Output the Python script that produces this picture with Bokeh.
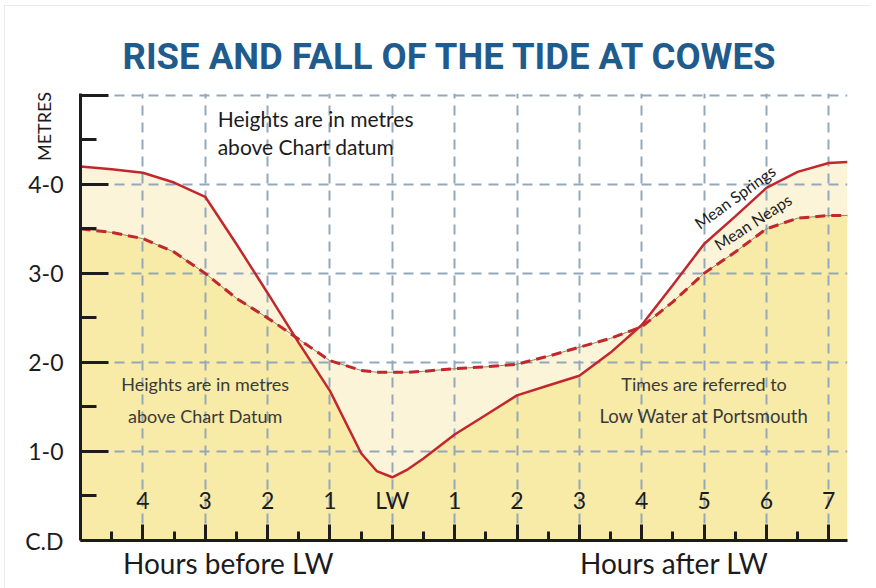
import numpy as np
from bokeh.plotting import figure
from bokeh.models import FixedTicker, Label, Range1d, LinearAxis
from bokeh.core.properties import value
from bokeh.embed import file_html
from bokeh.resources import INLINE

# hours relative to Low Water at Portsmouth (negative = before LW)
hours = [-5, -4.5, -4, -3.5, -3, -2.5, -2, -1.5, -1, -0.5, -0.25, 0, 0.25, 0.5,
         1, 1.5, 2, 2.5, 3, 3.5, 4, 4.5, 5, 5.5, 6, 6.5, 7, 7.3]
springs = [4.20, 4.17, 4.13, 4.02, 3.86, 3.33, 2.78, 2.22, 1.68, 0.98, 0.78, 0.71, 0.80, 0.92,
           1.19, 1.41, 1.63, 1.74, 1.85, 2.11, 2.42, 2.87, 3.33, 3.64, 3.96, 4.14, 4.24, 4.25]
neaps = [3.50, 3.46, 3.39, 3.24, 3.00, 2.72, 2.50, 2.26, 2.02, 1.91, 1.89, 1.89, 1.89, 1.90,
         1.93, 1.95, 1.98, 2.07, 2.17, 2.27, 2.40, 2.68, 3.00, 3.24, 3.50, 3.62, 3.65, 3.65]

hour_ticks = [-4, -3, -2, -1, 0, 1, 2, 3, 4, 5, 6, 7]
hour_labels = ["4", "3", "2", "1", "LW", "1", "2", "3", "4", "5", "6", "7"]
hour_minor = [-4.5, -3.5, -2.5, -1.5, -0.5, 0.5, 1.5, 2.5, 3.5, 4.5, 5.5, 6.5]
height_ticks = [0, 1, 2, 3, 4, 5]
height_labels = ["C.D", "1-0", "2-0", "3-0", "4-0", ""]
height_minor = [0.5, 1.5, 2.5, 3.5, 4.5]
period_pos = [-2.63, 4.52]
period_labels = ["Hours before LW", "Hours after LW"]
unit_pos = [4.65]
unit_labels = ["METRES"]

FONT = "Lato"
INK = "#1c1c1c"
RED = "#c1272d"

p = figure(width=866, height=583, output_backend="svg", toolbar_location=None,
           x_range=Range1d(-5, 7.3), y_range=Range1d(0, 5.02),
           min_border_left=76, min_border_right=23, min_border_top=88, min_border_bottom=48)
p.outline_line_color = None
p.background_fill_color = "white"
p.styles = {"margin-left": "4px", "margin-top": "5px",
            "outline": "2px solid #e3e3e3", "outline-offset": "-2px"}

p.title.text = "RISE AND FALL OF THE TIDE AT COWES"
p.title.align = "left"
p.title.offset = 42
p.title.text_font = "Roboto"
p.title.text_font_size = "36.5px"
p.title.text_font_style = "bold"
p.title.text_color = "#1f5b8c"
p.title.standoff = 31

# grid
for g in (p.xgrid, p.ygrid):
    g.grid_line_color = "#93a8ba"
    g.grid_line_dash = "10 7"
    g.grid_line_width = 2
p.xgrid.ticker = FixedTicker(ticks=hour_ticks)
p.ygrid.ticker = FixedTicker(ticks=height_ticks[1:])

# x axis: tick marks only
xa = p.xaxis[0]
xa.ticker = FixedTicker(ticks=hour_ticks, minor_ticks=hour_minor)
xa.major_tick_in = 16
xa.major_tick_out = 0
xa.minor_tick_in = 9
xa.minor_tick_out = 0
xa.major_label_overrides = {t: "" for t in hour_ticks}
xa.major_label_text_font_size = "1px"
xa.major_label_text_color = None
xa.major_label_standoff = 0
xa.axis_line_width = 3
xa.axis_line_color = INK
xa.major_tick_line_width = 3
xa.major_tick_line_color = INK
xa.minor_tick_line_width = 3
xa.minor_tick_line_color = INK

# second bottom axis: the two period captions
xb = LinearAxis(ticker=FixedTicker(ticks=period_pos, minor_ticks=[]),
                major_label_overrides=dict(zip(period_pos, period_labels)),
                axis_line_color=None, major_tick_line_color=None, minor_tick_line_color=None,
                major_tick_in=0, major_tick_out=0, minor_tick_in=0, minor_tick_out=0,
                major_label_standoff=5, major_label_text_font=FONT,
                major_label_text_font_size="28px", major_label_text_color=INK)
p.add_layout(xb, "below")

# y axis
ya = p.yaxis[0]
ya.ticker = FixedTicker(ticks=height_ticks, minor_ticks=height_minor)
ya.major_label_overrides = dict(zip(height_ticks, height_labels))
ya.major_tick_in = 28
ya.major_tick_out = 0
ya.minor_tick_in = 16
ya.minor_tick_out = 0
ya.axis_line_width = 3
ya.axis_line_color = INK
ya.major_tick_line_width = 3
ya.major_tick_line_color = INK
ya.minor_tick_line_width = 3
ya.minor_tick_line_color = INK
ya.major_label_standoff = 17
ya.major_label_text_font = FONT
ya.major_label_text_font_size = "23px"
ya.major_label_text_color = INK

# unit caption as a vertical label of a second left axis
yb = LinearAxis(ticker=FixedTicker(ticks=unit_pos, minor_ticks=[]),
                major_label_overrides=dict(zip(unit_pos, unit_labels)),
                major_label_orientation="vertical",
                axis_line_color=None, major_tick_line_color=None, minor_tick_line_color=None,
                major_tick_in=0, major_tick_out=0, minor_tick_in=0, minor_tick_out=0,
                major_label_standoff=-33, major_label_text_font=FONT,
                major_label_text_font_size="18px", major_label_text_color=INK)
p.add_layout(yb, "left")

# fills
lo = np.minimum(springs, neaps)
hi = np.maximum(springs, neaps)
r1 = p.varea(x=hours, y1=np.zeros(len(hours)), y2=lo, fill_color="#f8eba7")
r2 = p.varea(x=hours, y1=lo, y2=hi, fill_color="#fcf4d8")
r1.level = "image"
r2.level = "image"

# curves
p.line(hours, neaps, line_color="#8f8c5a", line_width=1)
p.line(hours, neaps, line_color=RED, line_width=3, line_dash="10 6")
p.line(hours, springs, line_color=RED, line_width=2.5)

# hour labels inside the frame
p.text(x=hour_ticks, y=[0.45] * len(hour_ticks), text=hour_labels,
       text_font=value(FONT), text_font_size=value("23px"), text_color=INK,
       text_align="center", text_baseline="middle")

def lab(x, y, text, size, color=INK, align="center", angle=0):
    p.add_layout(Label(x=x, y=y, text=text, text_font=FONT, text_font_size=size,
                       text_color=color, text_align=align, text_baseline="middle",
                       angle=angle, angle_units="deg"))

lab(-2.8, 4.74, "Heights are in metres", "21px", align="left")
lab(-2.8, 4.43, "above Chart datum", "21px", align="left")
lab(-3.0, 1.76, "Heights are in metres", "18px", color="#3a3a3a")
lab(-3.0, 1.40, "above Chart Datum", "18px", color="#3a3a3a")
lab(5.0, 1.76, "Times are referred to", "18px", color="#3a3a3a")
lab(5.0, 1.40, "Low Water at Portsmouth", "18.5px", color="#3a3a3a")
lab(5.49, 3.86, "Mean Springs", "16px", angle=36)
lab(5.78, 3.58, "Mean Neaps", "16px", angle=33)

open("out.html", "w").write(file_html(p, INLINE))
